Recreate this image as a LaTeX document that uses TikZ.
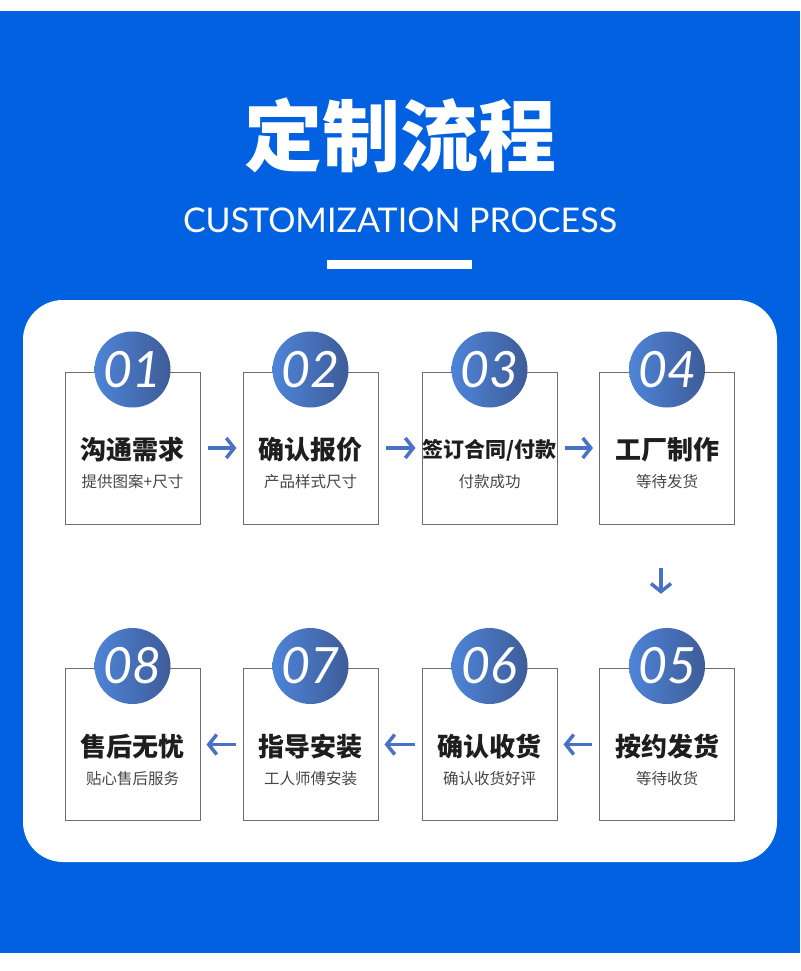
\documentclass[tikz,border=0pt]{standalone}
\usepackage{fontspec}
\setmainfont{Noto Sans CJK SC}
\newfontfamily\enfont{Lato}
\usetikzlibrary{arrows.meta,positioning,calc}
\definecolor{bgblue}{RGB}{2,97,224}
\definecolor{arrowblue}{RGB}{74,114,196}
\definecolor{ballleft}{RGB}{78,132,216}
\definecolor{ballright}{RGB}{62,92,152}
\definecolor{titlegray}{RGB}{30,30,30}
\definecolor{subgray}{RGB}{70,70,70}
\definecolor{framegray}{RGB}{110,110,110}

\tikzset{
  stepbox/.style={draw=framegray, line width=1pt, minimum width=135pt,
    minimum height=152pt, inner sep=0pt},
  ball/.style={circle, minimum size=76pt, inner sep=0pt, left color=ballleft,
    right color=ballright, text=white,
    font=\enfont\itshape\fontsize{50}{50}\selectfont},
  steptitle/.style={text=titlegray, inner sep=0pt},
  stepnote/.style={text=subgray, inner sep=0pt, font=\fontsize{15.5}{16}\selectfont},
  flow/.style={arrowblue, line width=3.5pt,
    -{Straight Barb[length=8pt,width=20pt,line width=3.5pt]}},
}

\begin{document}
\begin{tikzpicture}[x=1pt,y=-1pt]
  \useasboundingbox (0,0) rectangle (800,971);
  % background and heading
  \fill[bgblue] (0,11) rectangle (800,953);
  \node[text=white, font=\bfseries\fontsize{78}{78}\selectfont] (head) at (400,135) {定制流程};
  \node[text=white, font=\enfont\fontsize{34}{34}\selectfont] (subhead) at (400,220)
    {CUSTOMIZATION PROCESS};
  \fill[white] (327,260) rectangle (472,269);

  % white panel
  \fill[white, rounded corners=40pt] (23,300) rectangle (777,862);

  % the eight steps
  \foreach \i/\x/\y/\fs/\ttl/\sub in {
      1/132.5/448/26/沟通需求/提供图案+尺寸,
      2/310.5/448/26/确认报价/产品样式尺寸,
      3/489.5/448/21/{签订合同/付款}/付款成功,
      4/667/448/26/工厂制作/等待发货,
      5/667/744.5/26/按约发货/等待收货,
      6/489.5/744.5/26/确认收货/确认收货好评,
      7/310.5/744.5/26/指导安装/工人师傅安装,
      8/132.5/744.5/26/售后无忧/贴心售后服务} {
    \node[stepbox] (b\i) at (\x,\y) {};
    \node[ball] (c\i) at ($(b\i.north)+(0,-2)$) {0\i};
    \node[steptitle, font=\bfseries\fontsize{\fs}{\fs}\selectfont] (t\i)
      at ($(b\i.center)+(0,2)$) {\ttl};
    \node[stepnote] (n\i) at ($(b\i.center)+(0,34)$) {\sub};
  }

  % connectors
  \draw[flow, shorten <=7pt, shorten >=6pt] (b1.east) -- (b2.west);
  \draw[flow, shorten <=7pt, shorten >=6pt] (b2.east) -- (b3.west);
  \draw[flow, shorten <=7pt, shorten >=6pt] (b3.east) -- (b4.west);
  \draw[flow, shorten <=43pt, shorten >=34pt] ([xshift=-6pt]b4.south) -- ([xshift=-6pt]c5.north);
  \draw[flow, shorten <=7pt, shorten >=6pt] (b5.west) -- (b6.east);
  \draw[flow, shorten <=7pt, shorten >=6pt] (b6.west) -- (b7.east);
  \draw[flow, shorten <=7pt, shorten >=6pt] (b7.west) -- (b8.east);
\end{tikzpicture}
\end{document}
